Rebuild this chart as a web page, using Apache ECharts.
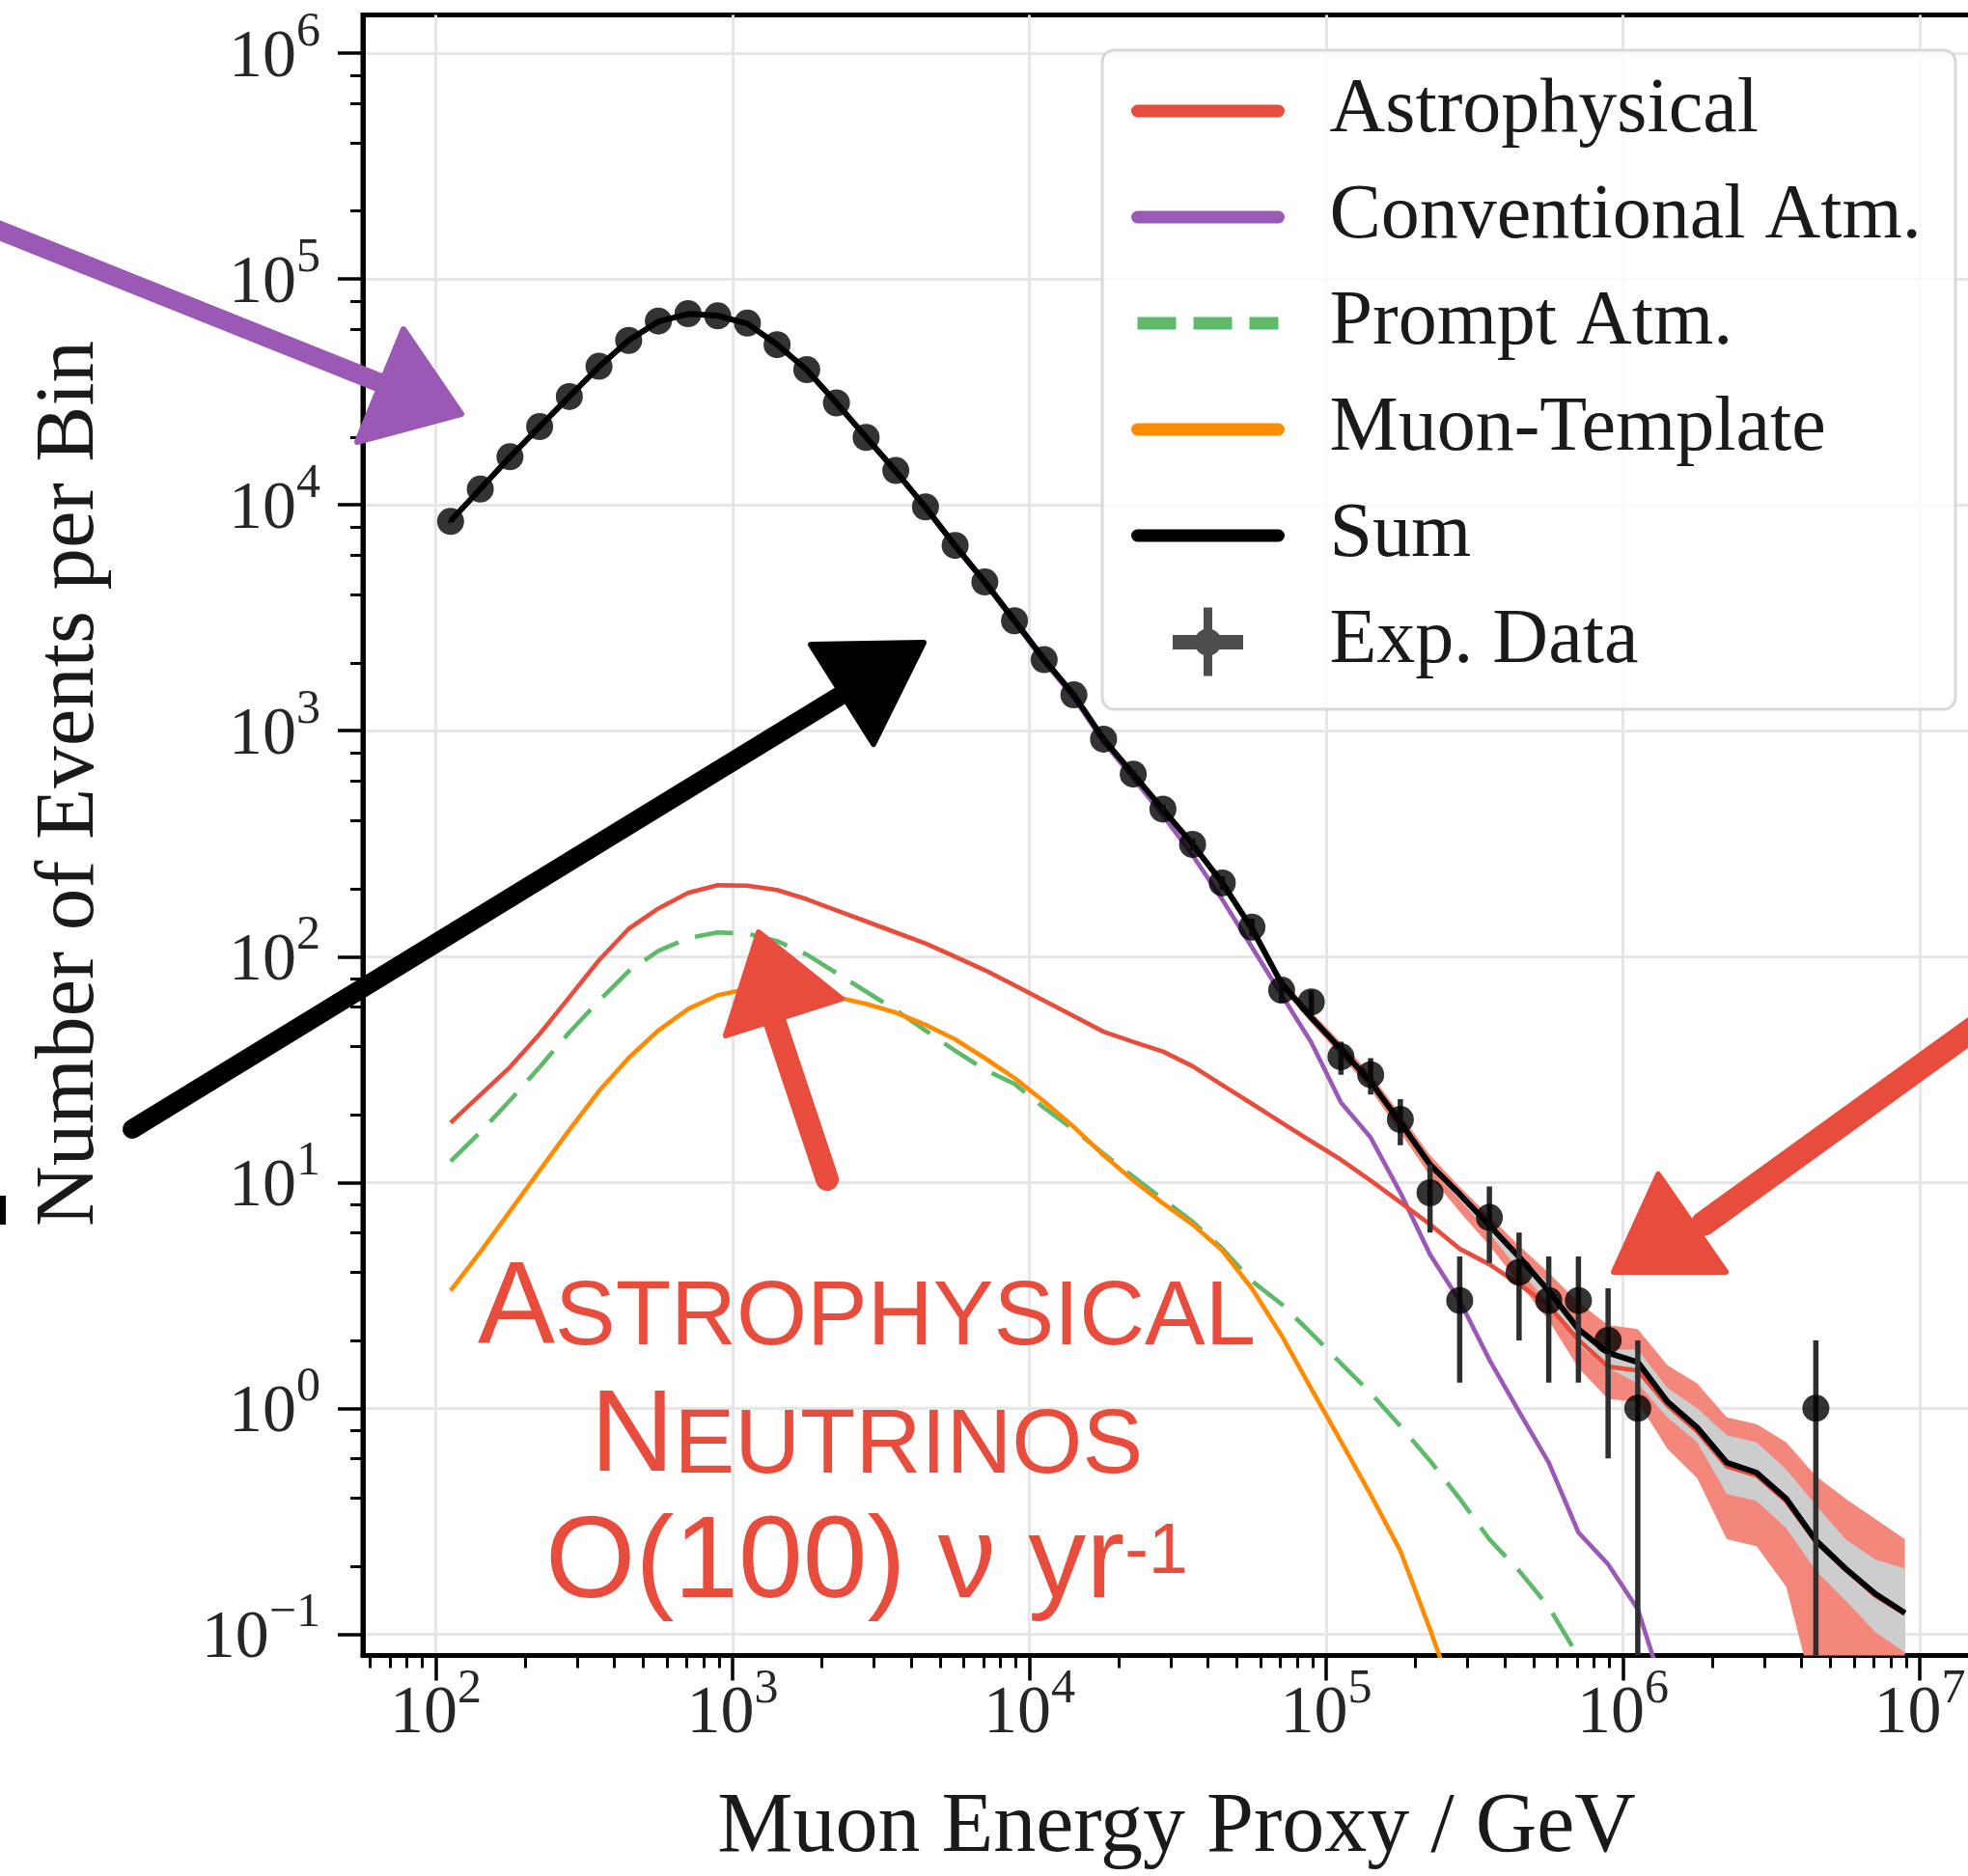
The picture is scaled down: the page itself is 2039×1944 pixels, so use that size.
<!DOCTYPE html>
<html>
<head>
<meta charset="utf-8">
<title>Muon Energy Proxy</title>
<script src="https://cdn.jsdelivr.net/npm/echarts@6.0.0/dist/echarts.min.js"></script>
<style>
  html, body { margin: 0; padding: 0; background: #fff; }
  #chart { width: 2039px; height: 1944px; }
</style>
</head>
<body>
<div id="chart"></div>
<script>
/* -------------------------------------------------------------------------- */
/*                                  Data                                      */
/* -------------------------------------------------------------------------- */

// bin centres, log10(E / GeV)
const binLog10E = [2.05, 2.15, 2.25, 2.35, 2.45, 2.55, 2.65, 2.75, 2.85, 2.95,
  3.05, 3.15, 3.25, 3.35, 3.45, 3.55, 3.65, 3.75, 3.85, 3.95,
  4.05, 4.15, 4.25, 4.35, 4.45, 4.55, 4.65, 4.75, 4.85, 4.95,
  5.05, 5.15, 5.25, 5.35, 5.45, 5.55, 5.65, 5.75, 5.85, 5.95,
  6.05, 6.15, 6.25, 6.35, 6.45, 6.55, 6.65, 6.75, 6.85, 6.95];

const expData = [8450, 11750, 16330, 22230, 30200, 41100, 53500, 65200, 70300, 68700,
  63800, 51200, 39700, 28300, 19900, 14200, 9800, 6620, 4560, 3070,
  2065, 1442, 918, 643, 450, 314, 212, 135, 71, 63,
  36, 30, 19, 9, 3, 7, 4, 3, 3, 2,
  1, null, null, null, null, null, 1, null, null, null];

const expErr = [92, 108, 128, 149, 174, 203, 231, 255, 265, 262,
  253, 226, 199, 168, 141, 119, 99, 81, 68, 55,
  45, 38, 30, 25, 21, 18, 15, 12, 8.4, 7.9,
  6, 5.5, 4.4, 3, 1.7, 2.6, 2, 1.7, 1.7, 1.4,
  1, null, null, null, null, null, 1, null, null, null];

const sumModel = [8500, 11750, 16300, 22200, 30200, 40900, 53500, 64900, 70100, 68900,
  63500, 51300, 39600, 28300, 19950, 14100, 9770, 6610, 4570, 3080,
  2070, 1440, 918, 643, 449, 314, 212, 133, 75.9, 53.7,
  38.9, 27.9, 18.4, 12.0, 8.87, 6.46, 4.68, 3.31, 2.24, 1.76,
  1.60, 1.07, 0.822, 0.575, 0.519, 0.398, 0.260, 0.195, 0.151, 0.124];

const astroModel = [18.4, 24.4, 32.4, 45.4, 66.1, 96.4, 132.7, 163.3, 191.4, 207,
  206, 197.2, 179.5, 160.3, 143.2, 127.9, 114.3, 100, 87.1, 74.6,
  63.8, 54.5, 46.5, 41.9, 38.0, 32.7, 27.0, 22.3, 18.4, 15.2,
  12.6, 10.2, 8.17, 6.52, 5.08, 4.34, 3.54, 2.85, 2.01, 1.53,
  1.47, 1.03, 0.791, 0.553, 0.504, 0.387, 0.256, 0.193, 0.148, 0.123];

const convModel = [8470, 11700, 16250, 22150, 30100, 40800, 53300, 64600, 69800, 68500,
  63100, 51000, 39400, 28100, 19800, 14000, 9650, 6520, 4490, 3020,
  2020, 1400, 891, 617, 422, 281, 179, 110, 67.6, 41.7,
  22.6, 15.8, 9.02, 4.79, 2.99, 1.64, 0.966, 0.575, 0.282, 0.204,
  0.129, 0.05, null, null, null, null, null, null, null, null];

const promptModel = [12.4, 16.7, 23.1, 32.4, 46.2, 63.7, 86.1, 105.9, 120.8, 127.9,
  126.5, 117.2, 102.1, 84.5, 70.0, 57.9, 47.1, 38.3, 31.6, 27.3,
  21.4, 17.1, 13.4, 10.6, 8.43, 6.7, 5.1, 3.66, 2.89, 2.15,
  1.58, 1.17, 0.834, 0.586, 0.398, 0.263, 0.191, 0.132, 0.0794, 0.04,
  null, null, null, null, null, null, null, null, null, null];

const muonModel = [3.32, 4.92, 7.45, 11.3, 17.1, 25.4, 35.6, 47.1, 58.6, 67.5,
  71.9, 71.3, 68.7, 66.2, 61.8, 56.5, 49.9, 43.0, 35.5, 29.0,
  22.8, 17.6, 13.2, 10.2, 8.09, 6.52, 5.0, 3.39, 2.10, 1.22,
  0.713, 0.414, 0.234, 0.105, 0.045, null, null, null, null, null,
  null, null, null, null, null, null, null, null, null, null];

// uncertainty bands around the sum (outer: astrophysical, inner: total)
const N0 = [null, null, null, null, null, null, null, null, null, null,
  null, null, null, null, null, null, null, null, null, null,
  null, null, null, null, null, null, null, null];
const bandRedHigh = N0.concat([79.4, 56.9, 41.7, 30.2, 20.0, 13.2, 9.55, 7.08, 5.25, 3.98,
  2.95, 2.34, 2.24, 1.55, 1.29, 0.912, 0.851, 0.708, 0.501, 0.398, 0.324, 0.263]);
const bandRedLow = N0.concat([72.4, 50.7, 36.3, 25.7, 16.6, 10.7, 7.41, 5.25, 3.59, 2.45,
  1.51, 1.10, 1.07, 0.661, 0.490, 0.263, 0.245, 0.162, 0.050, 0.032, 0.025, 0.020]);
const bandGrayHigh = N0.concat([77.6, 55.0, 39.8, 28.8, 19.1, 12.4, 9.12, 6.68, 4.79, 3.55,
  2.34, 1.82, 1.82, 1.23, 1.00, 0.759, 0.708, 0.537, 0.372, 0.263, 0.214, 0.195]);
const bandGrayLow = N0.concat([74.1, 52.5, 38.0, 26.9, 17.8, 11.5, 8.41, 5.96, 4.07, 2.95,
  1.91, 1.51, 1.29, 0.912, 0.708, 0.417, 0.389, 0.295, 0.191, 0.141, 0.102, 0.083]);

// axes (log10 space)
const xDecades = [2, 3, 4, 5, 6, 7];
const yDecades = [-1, 0, 1, 2, 3, 4, 5, 6];
const xMinorSubs = [2, 3, 4, 5, 6, 7, 8, 9];
const yMinorSubs = [2, 4, 6, 8];
const X_MIN = 1.7545, X_MAX = 7.2374;
const Y_MIN = -1.095, Y_MAX = 6.169;

/* -------------------------------------------------------------------------- */
/*                                 Helpers                                    */
/* -------------------------------------------------------------------------- */

const toPoints = values => binLog10E
  .map((x, i) => (values[i] == null ? null : [x, Math.log10(values[i])]))
  .filter(p => p !== null);

const minorTicks = (subs, lo, hi) => {
  const out = [];
  for (let d = Math.floor(lo); d <= Math.ceil(hi); d++) {
    subs.forEach(s => {
      const v = d + Math.log10(s);
      if (v > lo && v < hi) out.push(v);
    });
  }
  return out;
};

const decadeLabel = v => {
  const n = Math.round(v);
  return '{b|10}{s|' + (n < 0 ? '\u2212' + (-n) : n) + '}';
};

const tickRich = {
  b: { fontFamily: 'Liberation Serif', fontSize: 70, lineHeight: 70, color: '#262626',
       padding: [10, 0, 0, 0], verticalAlign: 'middle' },
  s: { fontFamily: 'Liberation Serif', fontSize: 50, lineHeight: 50, color: '#262626',
       padding: [0, 0, 42, 0], verticalAlign: 'middle' }
};

const band = (high, low, color) => ({
  type: 'custom',
  clip: true,
  silent: true,
  z: 1,
  data: [[4, 1]],
  renderItem: (params, api) => {
    const top = [], bottom = [];
    binLog10E.forEach((x, i) => {
      if (high[i] == null) return;
      top.push(api.coord([x, Math.log10(high[i])]));
      bottom.unshift(api.coord([x, Math.log10(low[i])]));
    });
    return { type: 'polygon', shape: { points: top.concat(bottom) }, style: { fill: color } };
  }
});

const line = (name, values, color, width, dash) => ({
  name: name,
  type: 'line',
  data: toPoints(values),
  symbol: 'none',
  silent: true,
  z: 3,
  lineStyle: { color: color, width: width, type: dash || 'solid', cap: 'butt', join: 'round' },
  itemStyle: { color: color }
});

const errData = [];
binLog10E.forEach((x, i) => {
  if (expData[i] == null) return;
  const lo = Math.max(expData[i] - expErr[i], 1e-4);
  errData.push([x, Math.log10(lo), Math.log10(expData[i] + expErr[i])]);
});

// rich text for the red annotation (small caps + superscript)
const annoFont = { fontFamily: 'Liberation Sans', fill: '#e74c3c', verticalAlign: 'bottom' };
const annoRich = {
  a: Object.assign({ fontSize: 120, lineHeight: 120 }, annoFont),
  b: Object.assign({ fontSize: 94, padding: [0, 0, 4, 0] }, annoFont),
  s: Object.assign({ fontSize: 74, padding: [0, 0, 35, 0] }, annoFont)
};

/* -------------------------------------------------------------------------- */
/*                                  Chart                                     */
/* -------------------------------------------------------------------------- */

const RED = '#e74c3c', PURPLE = '#9b59b6', GREEN = '#5fb96a', ORANGE = '#ff8c00';
const noDot = { opacity: 0 };
const chart = echarts.init(document.getElementById('chart'));

chart.setOption({
  animation: false,
  backgroundColor: '#fff',
  textStyle: { fontFamily: 'Liberation Serif' },
  grid: {
    left: 376, top: 15.6, width: 1686, height: 1700,
    show: true, borderColor: '#000', borderWidth: 5, backgroundColor: 'transparent',
    containLabel: false, outerBoundsMode: 'none'
  },
  xAxis: [
    {
      type: 'value', min: X_MIN, max: X_MAX, position: 'bottom',
      axisLine: { show: true, onZero: false, lineStyle: { color: '#000', width: 5 } },
      axisTick: { show: true, customValues: xDecades, length: 26, lineStyle: { color: '#000', width: 3.5 } },
      axisLabel: { show: true, customValues: xDecades, interval: 0, margin: 21,
                   formatter: decadeLabel, rich: tickRich },
      splitLine: { show: true, lineStyle: { color: '#e6e6e6', width: 3 } }
    },
    {
      type: 'value', min: X_MIN, max: X_MAX, position: 'bottom',
      axisLine: { show: false, onZero: false },
      axisLabel: { show: false },
      splitLine: { show: false },
      axisTick: { show: true, customValues: minorTicks(xMinorSubs, X_MIN, X_MAX), length: 13,
                  lineStyle: { color: '#000', width: 3 } }
    }
  ],
  yAxis: [
    {
      type: 'value', min: Y_MIN, max: Y_MAX, position: 'left',
      axisLine: { show: true, onZero: false, lineStyle: { color: '#000', width: 5 } },
      axisTick: { show: true, customValues: yDecades, length: 26, lineStyle: { color: '#000', width: 3.5 } },
      axisLabel: { show: true, customValues: yDecades, interval: 0, margin: 44,
                   formatter: decadeLabel, rich: tickRich },
      splitLine: { show: true, lineStyle: { color: '#e6e6e6', width: 3 } }
    },
    {
      type: 'value', min: Y_MIN, max: Y_MAX, position: 'left',
      axisLine: { show: false, onZero: false },
      axisLabel: { show: false },
      splitLine: { show: false },
      axisTick: { show: true, customValues: minorTicks(yMinorSubs, Y_MIN, Y_MAX), length: 13,
                  lineStyle: { color: '#000', width: 3 } }
    }
  ],
  legend: {
    orient: 'vertical', left: 1172, top: 75, padding: 0, itemGap: 30,
    itemWidth: 146, itemHeight: 71, selectedMode: false,
    textStyle: { fontFamily: 'Liberation Serif', fontSize: 80, lineHeight: 80, color: '#1a1a1a',
                 padding: [0, 0, 0, 48] },
    lineStyle: { width: 13, cap: 'round' },
    data: [
      { name: 'Astrophysical', itemStyle: noDot },
      { name: 'Conventional Atm.', itemStyle: noDot },
      { name: 'Prompt Atm.', itemStyle: noDot, lineStyle: { type: [40, 18], cap: 'butt' } },
      { name: 'Muon-Template', itemStyle: noDot },
      { name: 'Sum', itemStyle: noDot },
      { name: 'Exp. Data', itemStyle: { color: '#222' },
        icon: 'path://M0,28.5H73V43.5H0Z M32,0H41V71H32Z M22.5,36A14,14,0,1,1,50.5,36A14,14,0,1,1,22.5,36Z' }
    ]
  },
  series: [
    band(bandRedHigh, bandRedLow, '#f4877b'),
    band(bandGrayHigh, bandGrayLow, '#cdcdcd'),
    line('Conventional Atm.', convModel, PURPLE, 4.6),
    line('Prompt Atm.', promptModel, GREEN, 4.6, [40, 18]),
    line('Muon-Template', muonModel, ORANGE, 4.6),
    line('Astrophysical', astroModel, RED, 4.6),
    line('Sum', sumModel, '#000', 6),
    {
      type: 'custom', clip: true, silent: true, z: 4,
      data: errData,
      renderItem: (params, api) => {
        const a = api.coord([api.value(0), api.value(1)]);
        const b = api.coord([api.value(0), api.value(2)]);
        return { type: 'line', shape: { x1: a[0], y1: a[1], x2: b[0], y2: b[1] },
                 style: { stroke: '#2e2e2e', lineWidth: 5.5 } };
      }
    },
    {
      name: 'Exp. Data', type: 'scatter', silent: true, z: 5,
      data: toPoints(expData), symbol: 'circle', symbolSize: 28,
      itemStyle: { color: '#000' }
    }
  ],
  graphic: {
    elements: [
      // legend frame
      { type: 'rect', z: 3, silent: true,
        shape: { x: 1142, y: 52, width: 884, height: 683, r: 12 },
        style: { fill: 'rgba(255,255,255,0.8)', stroke: '#d8d8d8', lineWidth: 3 } },
      // axis titles
      { type: 'text', x: 1219, y: 1895, silent: true,
        style: { text: 'Muon Energy Proxy / GeV', font: '88px "Liberation Serif"', fill: '#1a1a1a',
                 align: 'center', verticalAlign: 'middle', textAlign: 'center', textVerticalAlign: 'middle' } },
      { type: 'text', x: 73, y: 812, rotation: Math.PI / 2, silent: true,
        style: { text: 'Number of Events per Bin', font: '87px "Liberation Serif"', fill: '#1a1a1a',
                 align: 'center', verticalAlign: 'middle', textAlign: 'center', textVerticalAlign: 'middle' } },
      // hand-drawn arrows
      { type: 'polyline', z: 10, silent: true, shape: { points: [[-10, 235], [392, 396]] },
        style: { stroke: PURPLE, lineWidth: 20, lineCap: 'round' } },
      { type: 'polygon', z: 10, silent: true, shape: { points: [[418, 341], [478, 429], [370, 458]] },
        style: { fill: PURPLE, stroke: PURPLE, lineWidth: 6, lineJoin: 'round' } },
      { type: 'polyline', z: 10, silent: true, shape: { points: [[137, 1170], [872, 720]] },
        style: { stroke: '#000', lineWidth: 20, lineCap: 'round' } },
      { type: 'polygon', z: 10, silent: true, shape: { points: [[840, 668], [957, 666], [905, 771]] },
        style: { fill: '#000', stroke: '#000', lineWidth: 6, lineJoin: 'round' } },
      { type: 'rect', z: 10, silent: true, shape: { x: 0, y: 1239, width: 6, height: 30 },
        style: { fill: '#000' } },
      { type: 'polyline', z: 10, silent: true, shape: { points: [[857, 1222], [803, 1060]] },
        style: { stroke: RED, lineWidth: 24, lineCap: 'round' } },
      { type: 'polygon', z: 10, silent: true, shape: { points: [[786, 966], [872, 1035], [752, 1073]] },
        style: { fill: RED, stroke: RED, lineWidth: 6, lineJoin: 'round' } },
      { type: 'polyline', z: 10, silent: true, shape: { points: [[2050, 1062], [1765, 1268]] },
        style: { stroke: RED, lineWidth: 26, lineCap: 'round' } },
      { type: 'polygon', z: 10, silent: true, shape: { points: [[1718, 1217], [1672, 1318], [1788, 1318]] },
        style: { fill: RED, stroke: RED, lineWidth: 6, lineJoin: 'round' } },
      // annotation
      { type: 'text', z: 10, x: 898, y: 1418, silent: true,
        style: { text: '{a|A}{b|STROPHYSICAL}', fill: RED, align: 'center', verticalAlign: 'bottom', rich: annoRich } },
      { type: 'text', z: 10, x: 898, y: 1551, silent: true,
        style: { text: '{a|N}{b|EUTRINOS}', fill: RED, align: 'center', verticalAlign: 'bottom', rich: annoRich } },
      { type: 'text', z: 10, x: 898, y: 1682, silent: true,
        style: { text: '{a|O(100) \u03bd yr}{s|-1}', fill: RED, align: 'center', verticalAlign: 'bottom', rich: annoRich } }
    ]
  }
});
</script>
</body>
</html>
